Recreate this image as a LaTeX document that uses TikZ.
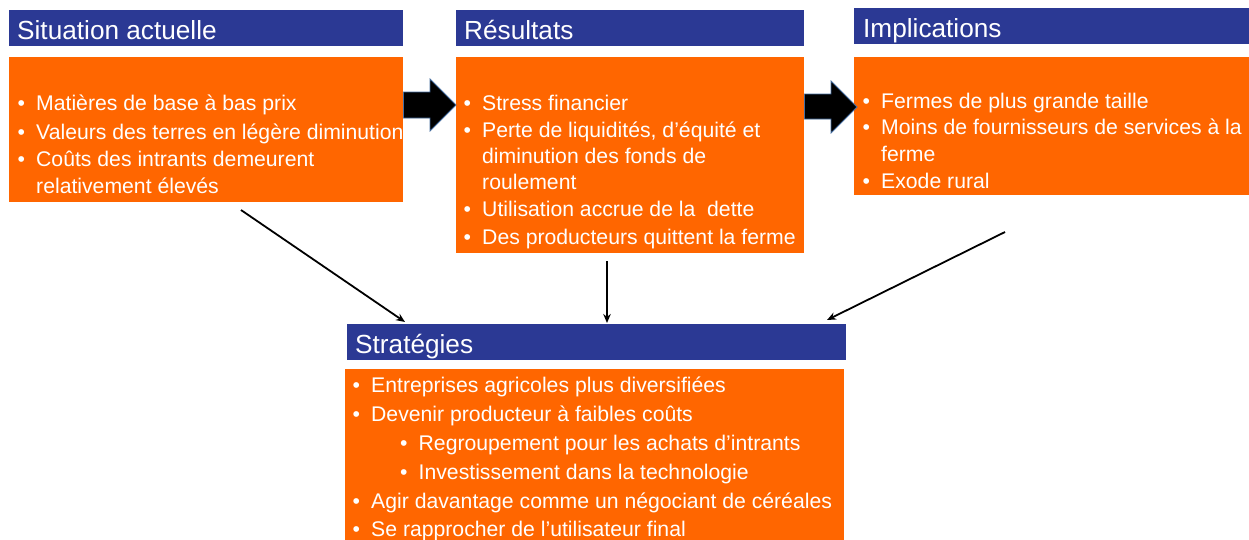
\documentclass[tikz,border=0pt]{standalone}
\usepackage{fontspec}
\setmainfont{Liberation Sans}
\usepackage{tikz}
\usetikzlibrary{arrows.meta}
\usepackage{xcolor}
\definecolor{bleu}{RGB}{43,57,148}
\definecolor{orangevif}{RGB}{255,102,0}
\definecolor{contour}{RGB}{70,110,160}
\newcommand{\bul}{\makebox[18.5pt][l]{\textbullet}}
\newcommand{\ind}{\hspace*{18.5pt}}

\begin{document}
\begin{tikzpicture}[x=1pt,y=-1pt,>={Stealth[length=9pt,width=7.5pt]}]
\tikzset{
    head/.style={%
        fill=bleu,
        rectangle,
        inner sep=0pt,
        anchor=north west
        },
    body/.style={%
        fill=orangevif,
        rectangle,
        inner sep=0pt,
        anchor=north west
        },
    htext/.style={%
        text=white, inner sep=0pt, anchor=base west,
        font=\fontsize{26.2}{30}\selectfont
        },
    item/.style={%
        text=white, inner sep=0pt, anchor=base west,
        font=\fontsize{21.2}{26}\selectfont
        },
    fleche/.style={->, line width=1.8pt},
    grosse/.style={fill=black, draw=contour, line width=0.8pt}
}
\useasboundingbox (0,0) rectangle (1249,539);
%%%HEADERS
\node[head, minimum width=394pt, minimum height=36pt] (h1) at (9,10) {};
\node[head, minimum width=348pt, minimum height=36pt] (h2) at (456,10) {};
\node[head, minimum width=395pt, minimum height=36pt] (h3) at (854,8) {};
\node[head, minimum width=499pt, minimum height=36pt] (h4) at (347,324) {};
\node[htext] (t1) at (17,39) {Situation actuelle};
\node[htext] (t2) at (464,39) {Résultats};
\node[htext] (t3) at (863,37.3) {Implications};
\node[htext] (t4) at (355,353) {Stratégies};
%%%BOXES
\node[body, minimum width=394pt, minimum height=145pt] (b1) at (9,57) {};
\node[body, minimum width=348pt, minimum height=196pt] (b2) at (456,57) {};
\node[body, minimum width=395pt, minimum height=138pt] (b3) at (854,57) {};
\node[body, minimum width=499pt, minimum height=172pt] (b4) at (345,369) {};
%%%ITEMS
\foreach \y/\t [count=\i] in {110.5/{\bul Matières de base à bas prix},
    139/{\bul Valeurs des terres en légère diminution},
    166/{\bul Coûts des intrants demeurent},
    193/{\ind relativement élevés}}
    \node[item] (b1-\i) at (17.5,\y) {\t};
\foreach \y/\t [count=\i] in {110.5/{\bul Stress financier},
    137/{\bul Perte de liquidités, d’équité et},
    163/{\ind diminution des fonds de},
    189/{\ind roulement},
    216.5/{\bul Utilisation accrue de la\ \ dette},
    244/{\bul Des producteurs quittent la ferme}}
    \node[item] (b2-\i) at (463.5,\y) {\t};
\foreach \y/\t [count=\i] in {108.3/{\bul Fermes de plus grande taille},
    134.3/{\bul Moins de fournisseurs de services à la},
    161.5/{\ind ferme},
    188.3/{\bul Exode rural}}
    \node[item] (b3-\i) at (862.5,\y) {\t};
\foreach \x/\y/\t [count=\i] in {352.5/392.7/{\bul Entreprises agricoles plus diversifiées},
    352.5/421.7/{\bul Devenir producteur à faibles coûts},
    400/450/{\bul Regroupement pour les achats d’intrants},
    400/479.3/{\bul Investissement dans la technologie},
    352.5/508.3/{\bul Agir davantage comme un négociant de céréales},
    352.5/536.7/{\bul Se rapprocher de l’utilisateur final}}
    \node[item] (b4-\i) at (\x,\y) {\t};
%%%BLOCK ARROWS
\filldraw[grosse] (b1.east |- 0,92) -| (430,79) -- (b2.west |- 0,105)
    -- (430,131) |- (b1.east |- 0,118) -- cycle;
\filldraw[grosse] (b2.east |- 0,94) -| (831,81) -- (857,107)
    -- (831,133) |- (b2.east |- 0,119) -- cycle;
%%%LINKS
\coordinate (f1) at (241,210);
\coordinate (f2) at (607,261);
\coordinate (f3) at (1005,232);
\coordinate (e1) at (405,322);
\coordinate (e2) at (607,323);
\coordinate (e3) at (827,320);
\draw[fleche] (f1) -- (e1);
\draw[fleche] (f2) -- (e2);
\draw[fleche] (f3) -- (e3);
\end{tikzpicture}
\end{document}
